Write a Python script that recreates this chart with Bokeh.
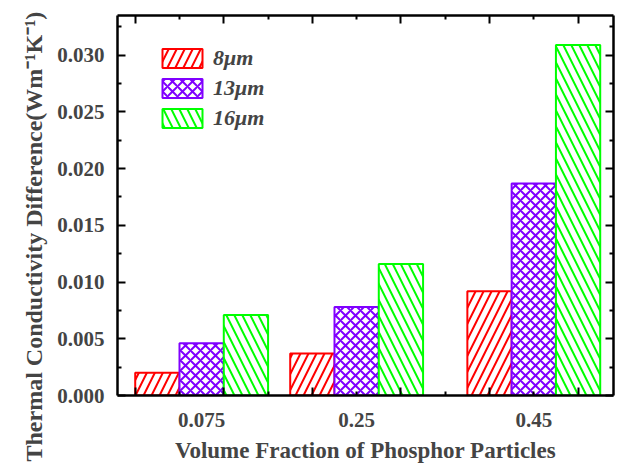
from bokeh.plotting import figure
from bokeh.models import (ColumnDataSource, LinearAxis, FixedTicker, PrintfTickFormatter,
                          Range1d, Legend, LegendItem, CustomJSTickFormatter, Title)
from bokeh.transform import dodge
from bokeh.embed import file_html
from bokeh.resources import INLINE

# ---- data ----
fractions = [0.075, 0.25, 0.45]
frac_labels = ["0.075", "0.25", "0.45"]
d8 = [0.0020, 0.0037, 0.0092]
d13 = [0.0046, 0.0078, 0.0187]
d16 = [0.0071, 0.0116, 0.0309]
series_names = ["8μm", "13μm", "16μm"]

src = ColumnDataSource(dict(x=fractions, d8=d8, d13=d13, d16=d16))

FONT = "Liberation Serif"

p = figure(width=640, height=465, output_backend="svg", toolbar_location=None,
           x_range=Range1d(-0.02, 0.54), y_range=Range1d(0, 0.0335),
           x_axis_type=None, y_axis_type=None,
           min_border_left=117, min_border_right=27, min_border_top=15, min_border_bottom=68)
p.xgrid.visible = False
p.ygrid.visible = False
p.outline_line_color = None
p.background_fill_color = "white"
p.border_fill_color = "white"

bw = 0.05
r8 = p.vbar(x=dodge("x", -bw, range=p.x_range), top="d8", width=bw, source=src,
            fill_color="white", line_color="#ff0000", line_width=2,
            hatch_pattern="/", hatch_color="#ff0000", hatch_scale=16, hatch_weight=2)
r13 = p.vbar(x=dodge("x", 0, range=p.x_range), top="d13", width=bw, source=src,
             fill_color="white", line_color="#8000ff", line_width=2,
             hatch_pattern="x", hatch_color="#8000ff", hatch_scale=10, hatch_weight=2)
r16 = p.vbar(x=dodge("x", bw, range=p.x_range), top="d16", width=bw, source=src,
             fill_color="white", line_color="#00ff00", line_width=2,
             hatch_pattern="\\", hatch_color="#00ff00", hatch_scale=16, hatch_weight=2)

xt = [0.0, 0.1, 0.2, 0.3, 0.4, 0.5]
xmt = [0.05, 0.15, 0.25, 0.35, 0.45]
yt = [0.0, 0.005, 0.010, 0.015, 0.020, 0.025, 0.030]
ymt = [0.0025, 0.0075, 0.0125, 0.0175, 0.0225, 0.0275, 0.0325]

blank = CustomJSTickFormatter(code="return '';")


def tick_axis(ticks, minor, loc):
    ax = LinearAxis(ticker=FixedTicker(ticks=ticks, minor_ticks=minor), formatter=blank)
    ax.major_tick_in = 8
    ax.major_tick_out = 0
    ax.minor_tick_in = 4
    ax.minor_tick_out = 0
    ax.major_tick_line_width = 2
    ax.minor_tick_line_width = 2
    ax.axis_line_width = 2.5
    ax.major_label_standoff = 0
    ax.major_label_text_font_size = "1px"
    p.add_layout(ax, loc)
    return ax


# bottom ticks (inside) then labels axis
tick_axis(xt, xmt, "below")
xlab = LinearAxis(ticker=FixedTicker(ticks=fractions, minor_ticks=[]),
                  major_label_overrides={f: l for f, l in zip(fractions, frac_labels)})
xlab.axis_line_color = None
xlab.major_tick_in = 0
xlab.major_tick_out = 0
xlab.major_label_standoff = 17
xlab.major_label_text_font = FONT
xlab.major_label_text_font_style = "bold"
xlab.major_label_text_font_size = "21px"
xlab.axis_label = "Volume Fraction of Phosphor Particles"
xlab.axis_label_text_font = FONT
xlab.axis_label_text_font_style = "bold"
xlab.axis_label_text_font_size = "23px"
xlab.axis_label_standoff = 8
p.add_layout(xlab, "below")

# left axis
yax = LinearAxis(ticker=FixedTicker(ticks=yt, minor_ticks=ymt),
                 formatter=PrintfTickFormatter(format="%.3f"))
yax.major_tick_in = 8
yax.major_tick_out = 0
yax.minor_tick_in = 4
yax.minor_tick_out = 0
yax.major_tick_line_width = 2
yax.minor_tick_line_width = 2
yax.axis_line_width = 2.5
yax.major_label_standoff = 13
yax.major_label_text_font = FONT
yax.major_label_text_font_style = "bold"
yax.major_label_text_font_size = "21px"
p.add_layout(yax, "left")

ytitle = Title(text="Thermal Conductivity Difference(Wm⁻¹K⁻¹)", align="left",
               text_font=FONT, text_font_style="bold", text_font_size="24px",
               standoff=15, offset=-66)
p.add_layout(ytitle, "left")

tick_axis(xt, xmt, "above")
tick_axis(yt, ymt, "right")

legend = Legend(items=[LegendItem(label=series_names[0], renderers=[r8]),
                       LegendItem(label=series_names[1], renderers=[r13]),
                       LegendItem(label=series_names[2], renderers=[r16])],
                location=(40, 264))
legend.glyph_width = 50
legend.glyph_height = 24
legend.label_height = 24
legend.spacing = 4
legend.padding = 0
legend.margin = 0
legend.label_standoff = 6
legend.border_line_color = None
legend.background_fill_alpha = 0
legend.label_text_font = FONT
legend.label_text_font_style = "bold italic"
legend.label_text_font_size = "22px"
p.add_layout(legend, "center")

open("out.html", "w").write(file_html(p, INLINE))
